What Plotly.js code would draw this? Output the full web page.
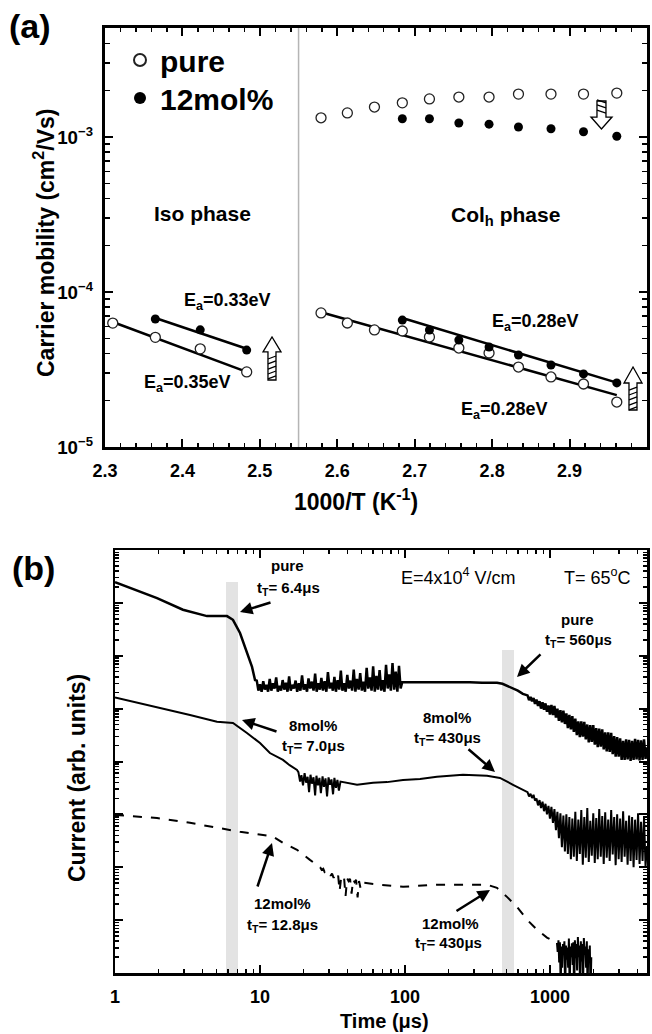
<!DOCTYPE html>
<html><head><meta charset="utf-8">
<script src="https://cdn.plot.ly/plotly-3.0.1.min.js"></script>
<style>html,body{margin:0;padding:0;background:#fff}#chart{width:652px;height:1034px}</style>
</head><body><div id="chart"></div>
<script>
// ---------------- Panel (a): carrier mobility vs 1000/T ----------------
const isoX      = [2.310, 2.365, 2.423, 2.483];
const isoPureY  = [6.3e-5, 5.1e-5, 4.3e-5, 3.05e-5];
const isoDopX   = [2.365, 2.423, 2.483];
const isoDopY   = [6.7e-5, 5.7e-5, 4.22e-5];
const colX      = [2.579, 2.613, 2.648, 2.684, 2.719, 2.757, 2.796, 2.834, 2.876, 2.918, 2.961];
const colPureHighY = [1.33e-3, 1.43e-3, 1.56e-3, 1.66e-3, 1.76e-3, 1.81e-3, 1.81e-3, 1.89e-3, 1.89e-3, 1.89e-3, 1.92e-3];
const colPureLowY  = [7.33e-5, 6.31e-5, 5.69e-5, 5.6e-5, 5.13e-5, 4.35e-5, 4.04e-5, 3.28e-5, 2.83e-5, 2.55e-5, 1.95e-5];
const colDopX      = [2.684, 2.719, 2.757, 2.796, 2.834, 2.876, 2.918, 2.961];
const colDopHighY  = [1.31e-3, 1.31e-3, 1.23e-3, 1.21e-3, 1.16e-3, 1.13e-3, 1.08e-3, 1.01e-3];
const colDopLowY   = [6.59e-5, 5.69e-5, 4.9e-5, 4.42e-5, 3.92e-5, 3.38e-5, 2.96e-5, 2.59e-5];
// Arrhenius fit lines (end points)
const fitIsoPureX = [2.310, 2.483], fitIsoPureY = [6.4e-5, 3.05e-5];
const fitIsoDopX  = [2.365, 2.483], fitIsoDopY  = [6.8e-5, 4.3e-5];
const fitColPureX = [2.579, 2.961], fitColPureY = [7.4e-5, 2.16e-5];
const fitColDopX  = [2.684, 2.961], fitColDopY  = [6.8e-5, 2.6e-5];
const phaseBoundary = 2.55;

// ---------------- Panel (b): transient photocurrents (log10 of current, arb. units) ----------------
// shared late-time sampling grid (µs) for pure and 8mol% tails
const tailT = [700, 717, 734, 752, 770, 788, 807, 827, 847, 867,
  888, 909, 931, 953, 976, 999, 1023, 1048, 1073, 1099,
  1125, 1152, 1180, 1208, 1237, 1267, 1297, 1328, 1360, 1393,
  1426, 1460, 1495, 1531, 1568, 1606, 1644, 1684, 1724, 1765,
  1808, 1851, 1896, 1941, 1988, 2036, 2084, 2134, 2186, 2238,
  2292, 2347, 2403, 2461, 2520, 2580, 2642, 2706, 2771, 2837,
  2905, 2975, 3046, 3119, 3194, 3271, 3349, 3430, 3512, 3596,
  3683, 3771, 3861, 3954, 4049, 4146, 4246, 4348, 4452, 4559, 4670];

const pureHeadT = [1.0, 1.5, 1.95, 2.94, 4.31, 5.92, 6.51, 7.28, 8.13, 8.81, 9.24,
  9.50, 9.75, 10.0, 10.26, 10.53, 10.8, 11.08, 11.37, 11.67, 11.97,
  12.28, 12.6, 12.93, 13.27, 13.61, 13.97, 14.33, 14.7, 15.08, 15.48,
  15.88, 16.29, 16.72, 17.15, 17.6, 18.05, 18.52, 19.0, 19.5, 20.0,
  20.5, 21.1, 21.6, 22.2, 22.8, 23.4, 24.0, 24.6, 25.2, 25.9,
  26.5, 27.2, 27.9, 28.7, 29.4, 30.2, 31.0, 31.8, 32.6, 33.4,
  34.3, 35.2, 36.1, 37.0, 38.0, 39.0, 40.0, 41.0, 42.1, 43.2,
  44.3, 45.5, 46.6, 47.9, 49.1, 50.4, 51.7, 53.0, 54.4, 55.8,
  57.3, 58.8, 60.3, 61.9, 63.5, 65.1, 66.8, 68.6, 70.3, 72.2,
  74.0, 76.0, 77.9, 79.9, 82.0, 84.2, 86.3, 88.6, 90.9, 93.3, 95.7,
  100, 130, 170, 220, 280, 340, 390, 431, 470, 510, 556, 600, 650];
const pureHeadLogI = [7.39, 7.21, 7.09, 6.87, 6.75, 6.75, 6.68, 6.43, 6.05, 5.79, 5.54,
  5.53, 5.34, 5.46, 5.32, 5.52, 5.36, 5.45, 5.32, 5.56, 5.34,
  5.48, 5.38, 5.59, 5.32, 5.43, 5.34, 5.54, 5.36, 5.49, 5.32,
  5.61, 5.34, 5.45, 5.38, 5.53, 5.32, 5.48, 5.34, 5.63, 5.36,
  5.46, 5.32, 5.57, 5.38, 5.51, 5.34, 5.66, 5.32, 5.48, 5.36,
  5.58, 5.34, 5.52, 5.32, 5.69, 5.38, 5.49, 5.34, 5.60, 5.32,
  5.54, 5.36, 5.72, 5.34, 5.48, 5.32, 5.64, 5.38, 5.53, 5.34,
  5.74, 5.32, 5.56, 5.36, 5.67, 5.34, 5.51, 5.32, 5.77, 5.38,
  5.59, 5.34, 5.80, 5.32, 5.62, 5.36, 5.73, 5.34, 5.54, 5.32,
  5.83, 5.38, 5.65, 5.34, 5.86, 5.36, 5.70, 5.32, 5.81, 5.38, 5.50,
  5.50, 5.50, 5.51, 5.50, 5.50, 5.49, 5.49, 5.49, 5.47, 5.43, 5.39, 5.34, 5.28];
const pureTailLogI = [5.25, 5.16, 5.22, 5.14, 5.20, 5.09, 5.17, 5.05, 5.14, 5.00,
  5.12, 4.98, 5.10, 4.94, 5.06, 4.89, 5.07, 4.88, 5.05, 4.83,
  5.00, 4.77, 4.97, 4.74, 4.96, 4.71, 4.91, 4.63, 4.88, 4.61,
  4.86, 4.56, 4.81, 4.50, 4.76, 4.46, 4.76, 4.47, 4.75, 4.42,
  4.70, 4.36, 4.69, 4.37, 4.69, 4.32, 4.63, 4.27, 4.62, 4.28,
  4.61, 4.23, 4.55, 4.19, 4.55, 4.18, 4.54, 4.14, 4.48, 4.09,
  4.46, 4.09, 4.44, 4.03, 4.39, 4.03, 4.42, 4.04, 4.41, 4.01,
  4.39, 4.03, 4.43, 4.04, 4.41, 4.02, 4.40, 4.03, 4.42, 4.05, 4.27];

const mol8HeadT = [1.0, 1.95, 3.29, 5.05, 6.51, 8.13, 10.0, 11.7, 14.4, 16.0, 18.0,
  18.4, 18.9, 19.3, 19.8, 20.3, 20.8, 21.3, 21.8, 22.3, 22.8,
  23.4, 24.0, 24.5, 25.1, 25.7, 26.3, 27.0, 27.6, 28.3, 29.0,
  29.7, 30.4, 31.1, 31.9, 32.6, 33.4, 34.2, 35.0, 35.9,
  37.4, 46.7, 60.2, 75.2, 96.9, 127, 166, 251, 368, 452, 556, 630];
const mol8HeadLogI = [5.21, 5.03, 4.88, 4.75, 4.73, 4.54, 4.35, 4.16, 4.03, 3.93, 3.84,
  3.80, 3.62, 3.74, 3.55, 3.78, 3.60, 3.71, 3.42, 3.75, 3.58,
  3.70, 3.36, 3.73, 3.55, 3.69, 3.40, 3.72, 3.52, 3.68, 3.34,
  3.70, 3.56, 3.66, 3.38, 3.69, 3.50, 3.65, 3.45, 3.62,
  3.61, 3.56, 3.60, 3.61, 3.65, 3.67, 3.71, 3.75, 3.73, 3.69, 3.56, 3.48];
const mol8TailLogI = [3.42, 3.34, 3.39, 3.31, 3.37, 3.26, 3.30, 3.17, 3.27, 3.12,
  3.24, 3.06, 3.20, 3.00, 3.16, 2.92, 3.14, 2.84, 3.10, 2.70,
  3.05, 2.55, 3.02, 2.38, 2.98, 2.30, 3.00, 2.25, 2.95, 2.15,
  2.92, 2.20, 3.05, 2.12, 2.90, 2.25, 3.08, 2.05, 2.95, 2.18,
  3.12, 2.10, 2.88, 2.22, 3.02, 2.08, 2.93, 2.15, 3.10, 2.20,
  2.97, 2.06, 3.04, 2.18, 2.90, 2.12, 3.08, 2.24, 2.95, 2.04,
  3.00, 2.15, 2.92, 2.10, 3.06, 2.20, 2.88, 2.05, 2.98, 2.12,
  2.95, 2.00, 2.90, 2.14, 3.02, 2.06, 2.86, 2.12, 2.94, 2.02, 2.40];

const mol12T = [1.0, 1.95, 3.29, 5.05, 7.28, 10.5, 12.3, 14.4, 18.0, 22.1, 25.0,
  26.0, 26.6, 27.3, 27.9, 28.6, 29.3, 30.0, 30.7, 31.4, 32.2,
  33.0, 33.8, 34.6, 35.4, 36.3, 37.1, 38.0, 38.9, 39.9, 40.8,
  41.8, 42.8, 43.9, 44.9, 46.0, 47.1, 48.2, 49.4, 50.6,
  67.3, 96.9, 166, 281, 368, 431, 505, 592, 694, 813, 953, 1117];
const mol12LogI = [2.99, 2.93, 2.84, 2.75, 2.67, 2.61, 2.58, 2.46, 2.33, 2.14, 2.03,
  2.00, 1.95, 1.97, 1.91, 1.93, 1.88, 1.90, 1.84, 1.88, 1.80,
  1.85, 1.78, 1.84, 1.55, 1.81, 1.76, 1.80, 1.45, 1.79, 1.74,
  1.78, 1.50, 1.77, 1.72, 1.76, 1.43, 1.74, 1.60, 1.71,
  1.67, 1.63, 1.67, 1.67, 1.67, 1.61, 1.44, 1.25, 1.01, 0.82, 0.67, 0.57];
// noisy end of the 12mol% trace (drops below the axis floor)
const mol12TailT = [1117, 1130, 1144, 1157, 1171, 1185, 1199, 1213, 1228, 1242, 1257, 1272, 1288, 1303, 1319, 1334, 1350,
  1367, 1383, 1399, 1416, 1433, 1450, 1467, 1485, 1502, 1520, 1538, 1557, 1575, 1594, 1613, 1632,
  1652, 1672, 1692, 1712, 1732, 1753, 1774, 1795, 1816, 1838, 1860, 1882, 1904, 1927];
const mol12TailLogI = [0.57, 0.40, 0.62, 0.20, 0.58, -0.30, 0.50, 0.10, 0.55, 0.35, 0.60, -0.40, 0.52, 0.25, 0.48, 0.10, 0.65,
  -0.30, 0.50, 0.30, 0.56, 0.15, 0.58, -0.50, 0.62, 0.28, 0.55, 0.05, 0.68, 0.30, 0.52, -0.40, 0.60,
  0.22, 0.55, -0.20, 0.66, 0.35, 0.50, 0.10, 0.60, -0.30, 0.45, 0.25, 0.52, -0.40, 0.30];

// transit-time shaded bands (µs)
const band1 = [5.8, 7.05], band2 = [467, 564];

// ---------------- helpers ----------------
const W = 652, H = 1034;
const PX = x => x / W, PY = y => 1 - y / H;
const FONT = 'Liberation Sans, Arial, Helvetica, sans-serif';
const lin = a => a.map(v => Math.pow(10, v));

function txt(text, x, y, size, extra) {
  return Object.assign({text, xref:'paper', yref:'paper', x:PX(x), y:PY(y), showarrow:false,
    xanchor:'center', yanchor:'middle', font:{family:FONT, size, color:'#000'}}, extra || {});
}
function arr(x, y, ax, ay) {
  return {text:'', xref:'paper', yref:'paper', x:PX(x), y:PY(y), ax, ay, showarrow:true,
    arrowhead:2, arrowsize:1, arrowwidth:2.5, arrowcolor:'#000'};
}
function pth(pts, close) {
  return pts.map((p, i) => (i ? 'L' : 'M') + PX(p[0]).toFixed(4) + ',' + PY(p[1]).toFixed(4)).join(' ') + (close ? ' Z' : '');
}
function blockArrow(bx0, bx1, hx0, hx1, tipX, tipY, baseY, endY) {
  const out = [[bx0, endY], [bx0, baseY], [hx0, baseY], [tipX, tipY], [hx1, baseY], [bx1, baseY], [bx1, endY]];
  const shapes = [{type:'path', xref:'paper', yref:'paper', path:pth(out, true), fillcolor:'#fff', line:{color:'#000', width:1.3}}];
  const dir = endY > baseY ? 1 : -1;
  const len = Math.abs(endY - baseY);
  let hatch = '';
  for (let d = 4; d < len; d += 5) {
    const y = baseY + dir * d;
    hatch += ' ' + pth([[bx0, y + dir * 3], [bx1, y]], false);
  }
  shapes.push({type:'path', xref:'paper', yref:'paper', path:hatch.trim(), line:{color:'#000', width:1.3}});
  return shapes;
}

// ---------------- traces ----------------
const lineStyle = {color:'#000', width:2.5};
const traces = [
  {x:fitIsoPureX, y:fitIsoPureY, mode:'lines', line:lineStyle, showlegend:false},
  {x:fitIsoDopX,  y:fitIsoDopY,  mode:'lines', line:lineStyle, showlegend:false},
  {x:fitColPureX, y:fitColPureY, mode:'lines', line:lineStyle, showlegend:false},
  {x:fitColDopX,  y:fitColDopY,  mode:'lines', line:lineStyle, showlegend:false},
  {name:'<b>pure</b>', legend:'legend', x:isoX.concat(colX, colX), y:isoPureY.concat(colPureLowY, colPureHighY), mode:'markers',
   marker:{symbol:'circle', size:10, color:'#fff', line:{color:'#222', width:1.3}}},
  {name:'<b>12mol%</b>', legend:'legend2', x:isoDopX.concat(colDopX, colDopX), y:isoDopY.concat(colDopLowY, colDopHighY), mode:'markers',
   marker:{symbol:'circle', size:9, color:'#000'}},
  {x:pureHeadT.concat(tailT), y:lin(pureHeadLogI.concat(pureTailLogI)), xaxis:'x2', yaxis:'y2', mode:'lines',
   line:{color:'#000', width:2.5}, showlegend:false},
  {x:mol8HeadT.concat(tailT), y:lin(mol8HeadLogI.concat(mol8TailLogI)), xaxis:'x2', yaxis:'y2', mode:'lines',
   line:{color:'#000', width:2}, showlegend:false},
  {x:mol12T, y:lin(mol12LogI), xaxis:'x2', yaxis:'y2', mode:'lines',
   line:{color:'#000', width:2, dash:'dash'}, showlegend:false},
  {x:mol12TailT, y:lin(mol12TailLogI), xaxis:'x2', yaxis:'y2', mode:'lines',
   line:{color:'#000', width:2}, showlegend:false}
];

const axBase = {ticks:'inside', tickwidth:2, ticklen:8, showline:true, linecolor:'#000', mirror:'ticks',
  showgrid:false, zeroline:false, tickcolor:'#000', fixedrange:true};
const legBase = {xanchor:'left', yanchor:'middle', bgcolor:'rgba(0,0,0,0)', itemsizing:'constant',
  font:{family:FONT, size:30, color:'#000'}};

const layout = {
  width:W, height:H, margin:{l:0, r:0, t:0, b:0}, paper_bgcolor:'#fff', plot_bgcolor:'rgba(0,0,0,0)',
  font:{family:FONT, color:'#000'}, showlegend:true,
  legend: Object.assign({}, legBase, {x:PX(120), y:PY(60)}),
  legend2: Object.assign({}, legBase, {x:PX(120), y:PY(98)}),
  xaxis: Object.assign({}, axBase, {domain:[PX(105), PX(647)], anchor:'y', range:[2.3, 3.0], dtick:0.1, tick0:2.3,
    linewidth:3, tickfont:{family:FONT, size:18, weight:'bold'}, ticklabelstandoff:5,
    minor:{dtick:0.02, ticks:'inside', ticklen:4, tickwidth:1.5, tickcolor:'#000'}}),
  yaxis: Object.assign({}, axBase, {domain:[PY(447), PY(28)], anchor:'x', type:'log', range:[-5, -2.297], dtick:1,
    exponentformat:'power', linewidth:3, tickfont:{family:FONT, size:15, weight:'bold'}, ticklabelstandoff:6,
    minor:{dtick:'D1', ticks:'inside', ticklen:5, tickwidth:1.5, tickcolor:'#000'}}),
  xaxis2: Object.assign({}, axBase, {domain:[PX(115), PX(647)], anchor:'y2', type:'log', range:[0, 3.669], dtick:1,
    exponentformat:'none', linewidth:2.5, tickfont:{family:FONT, size:18, weight:'bold'}, ticklabelstandoff:6,
    minor:{dtick:'D1', ticks:'inside', ticklen:4, tickwidth:1.5, tickcolor:'#000'}}),
  yaxis2: Object.assign({}, axBase, {domain:[PY(973), PY(550)], anchor:'x2', type:'log', range:[0, 8], dtick:1,
    showticklabels:false, linewidth:2.5,
    minor:{dtick:'D1', ticks:'inside', ticklen:4, tickwidth:1.5, tickcolor:'#000'}}),
  shapes: [
    {type:'line', xref:'x', yref:'y domain', x0:phaseBoundary, x1:phaseBoundary, y0:0, y1:1, line:{color:'#b5b5b5', width:1.5}, layer:'below'},
    {type:'rect', xref:'paper', yref:'paper', x0:PX(226), x1:PX(238), y0:PY(973), y1:PY(582), fillcolor:'#e3e3e3', line:{width:0}, layer:'below'},
    {type:'rect', xref:'paper', yref:'paper', x0:PX(502), x1:PX(514), y0:PY(973), y1:PY(650), fillcolor:'#e3e3e3', line:{width:0}, layer:'below'}
  ].concat(
    blockArrow(268, 276, 263, 281, 272, 337, 352, 380),
    blockArrow(629, 637, 624, 642, 633, 367, 383, 410),
    blockArrow(597, 606, 591, 612, 601.5, 129, 117, 101)
  ),
  annotations: [
    txt('<b>(a)</b>', 30, 26, 34),
    txt('<b>(b)</b>', 33, 568, 34),
    txt('<b>Carrier mobility (cm<sup>2</sup>/Vs)</b>', 44, 243, 23, {textangle:-90}),
    txt('<b>1000/T (K<sup>-1</sup>)</b>', 356, 500, 23),
    txt('<b>Current (arb. units)</b>', 77, 778, 23, {textangle:-90}),
    txt('<b>Time (\u03bcs)</b>', 384, 1021, 20),
    txt('<b>Iso phase</b>', 202, 213, 21),
    txt('<b>Col<sub>h</sub> phase</b>', 505, 216, 21),
    txt('<b>E<sub>a</sub>=0.33eV</b>', 227, 301, 18),
    txt('<b>E<sub>a</sub>=0.35eV</b>', 187, 383, 18),
    txt('<b>E<sub>a</sub>=0.28eV</b>', 535, 323, 18),
    txt('<b>E<sub>a</sub>=0.28eV</b>', 504, 410, 18),
    txt('E=4x10<sup>4</sup> V/cm', 458, 576, 18),
    txt('T= 65<sup>o</sup>C', 597, 576, 18),
    txt('<b>pure</b>', 287, 565, 15),
    txt('<b>t<sub>T</sub>= 6.4\u03bcs</b>', 288, 588, 15),
    txt('<b>8mol%</b>', 313, 725, 15),
    txt('<b>t<sub>T</sub>= 7.0\u03bcs</b>', 313, 746, 15),
    txt('<b>pure</b>', 577, 619, 15),
    txt('<b>t<sub>T</sub>= 560\u03bcs</b>', 578, 640, 15),
    txt('<b>8mol%</b>', 447, 717, 15),
    txt('<b>t<sub>T</sub>= 430\u03bcs</b>', 447, 738, 15),
    txt('<b>12mol%</b>', 282, 903, 15),
    txt('<b>t<sub>T</sub>= 12.8\u03bcs</b>', 282, 925, 15),
    txt('<b>12mol%</b>', 450, 923, 15),
    txt('<b>t<sub>T</sub>= 430\u03bcs</b>', 448, 943, 15),
    arr(240, 612, 32, -10),
    arr(242, 720, 36, 12),
    arr(517, 677, 25, -24),
    arr(495, 772, -28, -24),
    arr(272, 843, -15, 45),
    arr(490, 890, -35, 22)
  ]
};

Plotly.newPlot('chart', traces, layout, {displayModeBar:false, staticPlot:true});
</script>
</body></html>
